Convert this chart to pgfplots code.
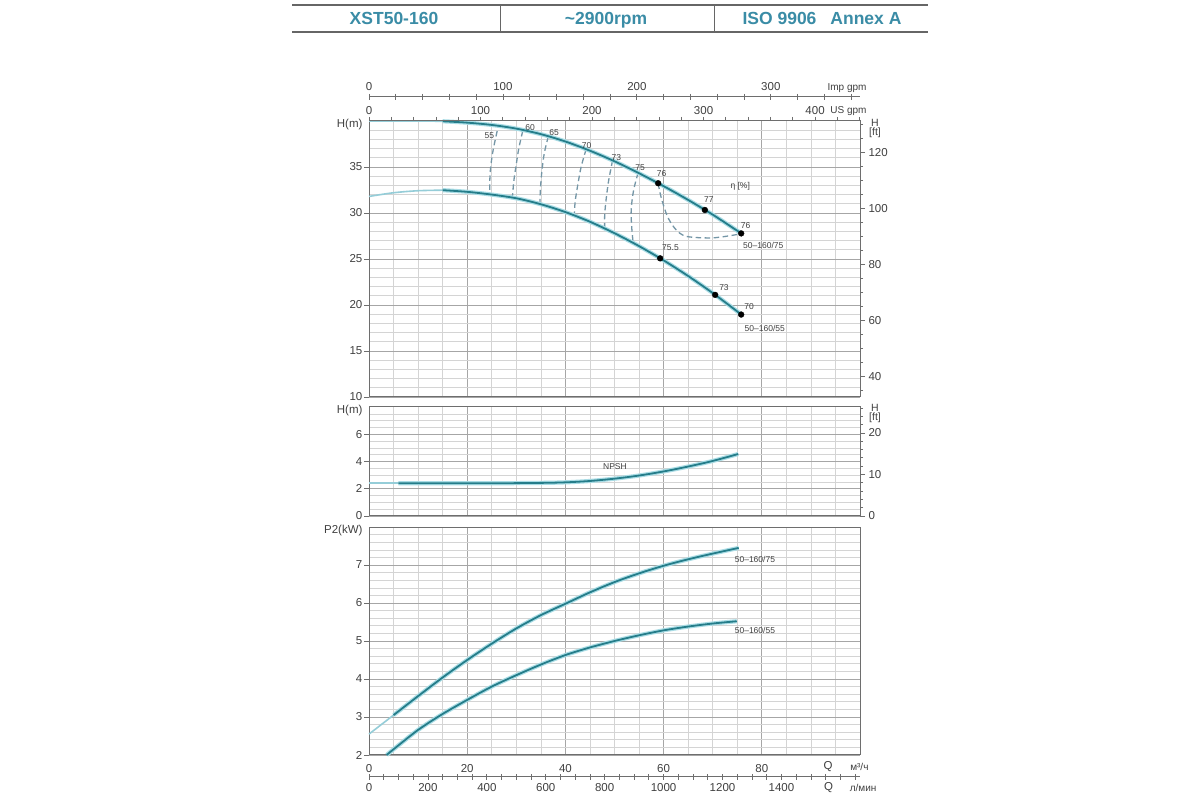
\documentclass[border=0pt]{standalone}
\usepackage{fontspec}
\setmainfont{Liberation Sans}
\usepackage{pgfplots}
\usepackage{pgfplotstable}
\pgfplotsset{compat=1.18}
\definecolor{curve}{HTML}{257D8A}
\definecolor{glow}{HTML}{A9DCE5}
\definecolor{lightc}{HTML}{95CDD8}
\definecolor{gridmin}{HTML}{D4D4D4}
\definecolor{gridmaj}{HTML}{A6A6A6}
\definecolor{frame}{HTML}{6E6E6E}
\definecolor{txt}{HTML}{404040}
\definecolor{head}{HTML}{3A8CA6}
\definecolor{dashc}{HTML}{7496A6}

% ---------- data ----------
\pgfplotstableread{
Q H
15 39.97
20 39.82
25 39.57
30 39.17
35 38.57
40 37.77
45 36.77
50 35.62
55 34.32
60 32.92
65 31.42
70 29.82
75 28.07
75.8 27.78
}\Hup
\pgfplotstableread{
Q H
0 40.0
7.5 40.0
15 39.97
}\Hupl
\pgfplotstableread{
Q H
15 32.48
20 32.30
25 32.00
30 31.60
35 30.95
40 30.10
45 29.05
50 27.80
55 26.40
60 24.85
65 23.15
70 21.30
75 19.30
75.8 18.96
}\Hlow
\pgfplotstableread{
Q H
0 31.80
5 32.20
10 32.42
15 32.48
}\Hlowl
\pgfplotstableread{
Q H
6 2.40
15 2.40
25 2.40
35 2.43
40 2.47
45 2.57
50 2.74
55 2.97
60 3.27
65 3.63
70 4.04
75.2 4.55
}\Npsh
\pgfplotstableread{
Q H
0 2.40
6 2.40
}\Npshl
\pgfplotstableread{
Q P
5 3.05
10 3.55
15 4.04
20 4.50
25 4.93
30 5.33
35 5.68
40 5.98
45 6.28
50 6.55
55 6.78
60 6.98
65 7.15
70 7.30
75.3 7.45
}\Pbig
\pgfplotstableread{
Q P
0 2.55
5 3.05
}\Pbigl
\pgfplotstableread{
Q P
3.6 2.00
5 2.15
10 2.66
15 3.08
20 3.45
25 3.80
30 4.10
35 4.38
40 4.63
45 4.83
50 5.00
55 5.15
60 5.28
65 5.38
70 5.46
74.9 5.52
}\Psmall

\tikzset{
  tl/.style={font=\fontsize{11.5}{13}\selectfont, text=txt},
  ul/.style={font=\fontsize{10}{12}\selectfont, text=txt},
  sm/.style={font=\fontsize{8.5}{10}\selectfont, text=txt},
}
\pgfplotsset{
  mainax/.style={
    scale only axis, width=491pt, anchor=south west,
    xmin=0, xmax=100, clip=false,
    axis line style={frame, line width=1pt},
    tick style={frame, line width=0.8pt},
    ticklabel style={tl},
    /pgf/number format/assume math mode=true,
    grid=both,
    major grid style={gridmaj, line width=0.9pt},
    minor grid style={gridmin, line width=0.6pt},
    xtick={0,20,40,60,80,100},
    minor xtick={5,10,15,25,30,35,45,50,55,65,70,75,85,90,95},
    xtick style={draw=none},
    minor tick length=0pt,
    ytick pos=left,
    tick align=outside, major tick length=5pt,
    yticklabel style={inner sep=1.5pt},
  },
  twin/.style={
    scale only axis, width=491pt, anchor=south west, clip=false,
    axis line style={frame, line width=1pt},
    tick style={frame, line width=0.8pt},
    ticklabel style={tl},
    /pgf/number format/assume math mode=true,
    /pgf/number format/1000 sep={},
    tick align=outside, major tick length=5pt, minor tick length=3pt,
  },
  dk/.style={curve, line width=1.8pt, smooth, preaction={draw=glow, line width=4.2pt}},
  lt/.style={lightc, line width=1.6pt, smooth},
  eff/.style={dashc, line width=1.3pt, dash pattern=on 5.5pt off 3.5pt, smooth},
}

\begin{document}
\begin{tikzpicture}
\useasboundingbox (0pt,0pt) rectangle (1200pt,800pt);
\fill[white] (0pt,0pt) rectangle (1200pt,800pt);

% ---------- header ----------
\draw[gray!80!black, line width=2.2pt] (292pt,795pt) -- (928pt,795pt);
\draw[gray!80!black, line width=2.2pt] (292pt,768pt) -- (928pt,768pt);
\draw[gray!80!black, line width=1pt] (500pt,795pt) -- (500pt,768pt);
\draw[gray!80!black, line width=1pt] (714pt,795pt) -- (714pt,768pt);
\node[font=\fontsize{17.5}{20}\selectfont\bfseries, text=head, anchor=base] at (394pt,775pt) {XST50-160};
\node[font=\fontsize{17.5}{20}\selectfont\bfseries, text=head, anchor=base] at (606pt,775pt) {\textasciitilde2900rpm};
\node[font=\fontsize{17.5}{20}\selectfont\bfseries, text=head, anchor=base] at (822pt,775pt) {ISO 9906\hspace{14pt}Annex A};

% ---------- top: H(m) ----------
\begin{axis}[mainax, at={(369pt,403pt)}, height=276pt,
  ymin=10, ymax=40, ytick={10,15,20,25,30,35},
  minor ytick={11,12,13,14,16,17,18,19,21,22,23,24,26,27,28,29,31,32,33,34,36,37,38,39},
  xticklabels={}]
  \addplot[lt] table[x=Q,y=H] {\Hupl};
  \addplot[lt] table[x=Q,y=H] {\Hlowl};
  \addplot[eff] coordinates {(26.1,38.9) (25.3,36.9) (24.8,35.1) (24.6,33.5) (24.6,32.03)};
  \addplot[eff] coordinates {(31.3,38.9) (30.5,37.0) (30.0,35.3) (29.5,33.5) (29.2,31.66)};
  \addplot[eff] coordinates {(36.5,38.3) (35.7,36.5) (35.2,34.5) (34.9,32.5) (34.8,30.98)};
  \addplot[eff] coordinates {(44.2,36.9) (43.2,35.0) (42.6,33.3) (42.0,31.3) (41.8,29.72)};
  \addplot[eff] coordinates {(49.6,35.7) (48.8,33.5) (48.3,31.5) (48.0,29.8) (48.0,28.3)};
  \addplot[eff] coordinates {(54.8,34.35) (53.9,32.5) (53.4,30.4) (53.5,28.5) (53.8,26.74)};
  \addplot[eff] coordinates {(58.9,33.2) (59.5,31.7) (60.8,29.6) (62.5,28.2) (64.7,27.45) (70.1,27.3) (75.4,27.7)};
  \addplot[dk] table[x=Q,y=H] {\Hup};
  \addplot[dk] table[x=Q,y=H] {\Hlow};
  \addplot[only marks, mark=*, mark size=2.9pt, black] coordinates {(58.9,33.23) (68.4,30.33) (75.8,27.78)};
  \addplot[only marks, mark=*, mark size=2.9pt, black] coordinates {(59.3,25.07) (70.5,21.1) (75.8,18.96)};
  \node[sm] at (axis cs:24.5,38.45) {55};
  \node[sm] at (axis cs:32.8,39.25) {60};
  \node[sm] at (axis cs:37.7,38.75) {65};
  \node[sm] at (axis cs:44.3,37.3) {70};
  \node[sm] at (axis cs:50.4,36.05) {73};
  \node[sm] at (axis cs:55.2,34.9) {75};
  \node[sm] at (axis cs:59.6,34.3) {76};
  \node[sm] at (axis cs:69.2,31.45) {77};
  \node[sm] at (axis cs:76.7,28.6) {76};
  \node[sm] at (axis cs:75.6,32.9) {η [\%]};
  \node[sm] at (axis cs:80.3,26.5) {50--160/75};
  \node[sm] at (axis cs:61.4,26.2) {75.5};
  \node[sm] at (axis cs:72.3,21.9) {73};
  \node[sm] at (axis cs:77.4,19.8) {70};
  \node[sm] at (axis cs:80.6,17.5) {50--160/55};
  \node[tl, anchor=east] at (rel axis cs:0,1) [xshift=-3pt, yshift=-4pt] {H(m)};
\end{axis}
% right: H ft
\begin{axis}[twin, at={(369pt,403pt)}, height=276pt,
  xmin=0, xmax=100, ymin=32.8084, ymax=131.2336,
  axis y line*=right, axis x line=none,
  ytick={40,60,80,100,120},
  minor ytick={35,45,50,55,65,70,75,85,90,95,105,110,115,125,130}]
  \node[font=\fontsize{10.5}{9}\selectfont, text=txt, align=center] at (rel axis cs:1,1) [xshift=15pt, yshift=-7pt] {H\\{[ft]}};
\end{axis}
% top: US gpm
\begin{axis}[twin, at={(369pt,403pt)}, height=276pt,
  xmin=0, xmax=440.29, ymin=0, ymax=1,
  axis x line*=top, axis y line=none,
  major tick length=4pt, minor tick length=4pt,
  xtick={0,100,200,300,400},
  minor xtick={20,40,60,80,120,140,160,180,220,240,260,280,320,340,360,380,420,440},
  xticklabel style={yshift=-1pt}]
  \node[ul, anchor=east] at (rel axis cs:1,1) [xshift=10pt, yshift=10pt] {US gpm};
\end{axis}
% top: Imp gpm
\begin{axis}[twin, at={(369pt,693pt)}, height=10pt,
  xmin=0, xmax=366.6, ymin=0, ymax=1,
  axis x line*=top, axis y line=none,
  tick align=center, major tick length=6pt, minor tick length=6pt,
  xtick={0,100,200,300},
  minor xtick={20,40,60,80,120,140,160,180,220,240,260,280,320,340,360}]
  \node[ul, anchor=east] at (rel axis cs:1,1) [xshift=10pt, yshift=9pt] {Imp gpm};
\end{axis}

% ---------- middle: NPSH ----------
\begin{axis}[mainax, at={(369pt,284pt)}, height=109pt,
  ymin=0, ymax=8, ytick={0,2,4,6},
  minor ytick={0.5,1,1.5,2.5,3,3.5,4.5,5,5.5,6.5,7,7.5},
  xticklabels={}]
  \addplot[lt] table[x=Q,y=H] {\Npshl};
  \addplot[dk] table[x=Q,y=H] {\Npsh};
  \node[sm] at (axis cs:50.1,3.6) {NPSH};
  \node[tl, anchor=east] at (rel axis cs:0,1) [xshift=-3pt, yshift=-4pt] {H(m)};
\end{axis}
\begin{axis}[twin, at={(369pt,284pt)}, height=109pt,
  xmin=0, xmax=100, ymin=0, ymax=26.2467,
  axis y line*=right, axis x line=none,
  ytick={0,10,20},
  minor ytick={2,4,6,8,12,14,16,18,22,24,26}]
  \node[font=\fontsize{10.5}{9}\selectfont, text=txt, align=center] at (rel axis cs:1,1) [xshift=15pt, yshift=-6pt] {H\\{[ft]}};
\end{axis}

% ---------- bottom: P2 ----------
\begin{axis}[mainax, at={(369pt,45pt)}, height=228pt,
  ymin=2, ymax=8, ytick={2,3,4,5,6,7},
  minor ytick={2.2,2.4,2.6,2.8,3.2,3.4,3.6,3.8,4.2,4.4,4.6,4.8,5.2,5.4,5.6,5.8,6.2,6.4,6.6,6.8,7.2,7.4,7.6,7.8},
  xticklabels={0,20,40,60,80,{}},
  xticklabel style={yshift=-1pt}]
  \addplot[lt] table[x=Q,y=P] {\Pbigl};
  \addplot[dk] table[x=Q,y=P] {\Pbig};
  \addplot[dk] table[x=Q,y=P] {\Psmall};
  \node[sm] at (axis cs:78.6,7.15) {50--160/75};
  \node[sm] at (axis cs:78.6,5.28) {50--160/55};
  \node[tl, anchor=east] at (rel axis cs:0,1) [xshift=-3pt, yshift=-4pt] {P2(kW)};
  \node[tl] at (axis cs:93.5,2) [yshift=-12pt] {Q};
  \node[ul, anchor=west] at (axis cs:97.3,2) [yshift=-12pt] {м³/ч};
\end{axis}
% bottom: l/min
\begin{axis}[twin, at={(369pt,23pt)}, height=10pt,
  xmin=0, xmax=1666.67, ymin=0, ymax=1,
  axis x line*=bottom, axis y line=none,
  tick align=center, major tick length=6pt, minor tick length=6pt,
  xtick={0,200,400,600,800,1000,1200,1400},
  minor xtick={50,100,150,250,300,350,450,500,550,650,700,750,850,900,950,1050,1100,1150,1250,1300,1350,1450,1500,1550,1600,1650}]
  \node[tl] at (axis cs:1560,0) [yshift=-11pt] {Q};
  \node[ul, anchor=west] at (axis cs:1620,0) [yshift=-11pt] {л/мин};
\end{axis}
\end{tikzpicture}
\end{document}
